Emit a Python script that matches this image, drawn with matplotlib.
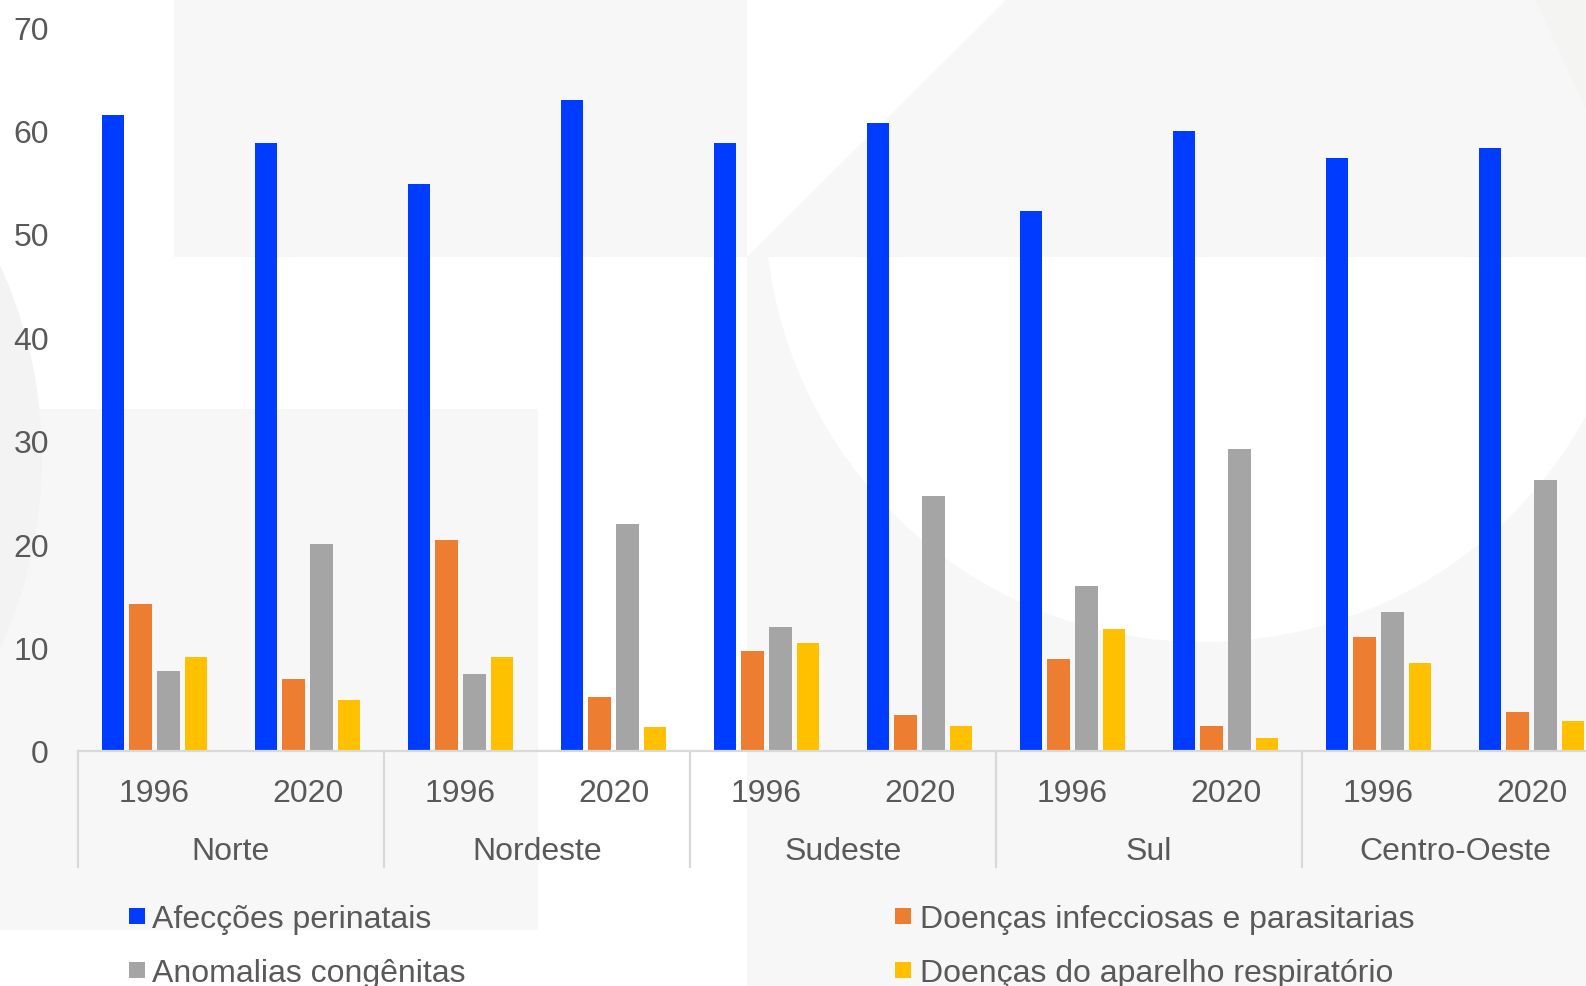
import matplotlib.pyplot as plt
from matplotlib.patches import Rectangle, Polygon, Circle
from matplotlib.transforms import Affine2D
import numpy as np

plt.rcParams['font.family'] = ['Liberation Sans', 'DejaVu Sans']

# data (deaths %, by region and year)
regions = ['Norte', 'Nordeste', 'Sudeste', 'Sul', 'Centro-Oeste']
years = ['1996', '2020']
series_names = ['Afecções perinatais', 'Doenças infecciosas e parasitarias',
                'Anomalias congênitas', 'Doenças do aparelho respiratório']
colors = ['#003CFF', '#ED7D31', '#A5A5A5', '#FFC000']

afeccoes = [61.5, 58.8, 54.8, 62.9, 58.8, 60.7, 52.2, 59.9, 57.3, 58.3]
infecciosas = [14.2, 7.0, 20.4, 5.2, 9.7, 3.5, 8.9, 2.4, 11.0, 3.8]
anomalias = [7.7, 20.0, 7.4, 21.9, 12.0, 24.7, 16.0, 29.2, 13.4, 26.2]
respiratorio = [9.1, 4.9, 9.1, 2.3, 10.4, 2.4, 11.8, 1.3, 8.5, 2.9]
series = [afeccoes, infecciosas, anomalias, respiratorio]

W, H = 1586, 987
TXT = '#595959'
BG = '#f7f7f7'
FS = 23

fig = plt.figure(figsize=(W / 100, H / 100), dpi=100)
fig.patch.set_facecolor('white')

# pixel coords (y from top) -> figure
px = Affine2D().scale(1, -1).translate(0, H).scale(1 / W, 1 / H) + fig.transFigure


def bg(patch):
    patch.set_transform(px)
    patch.set_zorder(-5)
    patch.set_linewidth(0)
    fig.add_artist(patch)


# decorative background shapes
bg(Rectangle((747, 258), W - 747, H - 258, facecolor=BG))
bg(Circle((1203, 205), 438, facecolor='white'))
bg(Polygon([(1007, 0), (W, 0), (W, 258), (747, 258)], facecolor=BG))
bg(Rectangle((174, 0), 747 - 174, 258, facecolor=BG))
bg(Rectangle((0, 410), 538, 931 - 410, facecolor=BG))
bg(Circle((-416, 458), 458, facecolor='#f3f3f3'))
bg(Polygon([(1535, 0), (W, 0), (W, 110)], facecolor='#f4f4f2'))

ax = fig.add_axes([78 / W, 235 / H, 1530 / W, 724 / H])
ax.patch.set_visible(False)

n = len(series_names)
x = np.arange(len(regions) * len(years))
step = 0.182
width = 0.145
for k, (vals, c) in enumerate(zip(series, colors)):
    ax.bar(x + (k - (n - 1) / 2) * step, vals, width=width, color=c, label=series_names[k])

ax.set_xlim(-0.5, len(x) - 0.5)
ax.set_ylim(0, 70)
ax.set_yticks(range(0, 71, 10))
ax.tick_params(axis='y', length=0, pad=21, labelsize=FS, labelcolor=TXT)
ax.set_xticks([])
for s in ['top', 'right', 'left']:
    ax.spines[s].set_visible(False)
ax.spines['bottom'].set_color('#d9d9d9')
ax.spines['bottom'].set_linewidth(1.6)

# two-level category axis
tr = ax.get_xaxis_transform()
for i in x:
    ax.text(i, -0.069, years[i % 2], transform=tr, ha='center', va='baseline',
            fontsize=FS, color=TXT)
for g, name in enumerate(regions):
    ax.text(2 * g + 0.5, -0.149, name, transform=tr, ha='center', va='baseline',
            fontsize=FS, color=TXT)
for b in np.arange(-0.5, len(x), 2):
    ax.plot([b, b], [0, -0.160], transform=tr, color='#d9d9d9', lw=1.6, clip_on=False)

# legend, two columns
leg_cols = [(137, 152), (903, 920)]
leg_rows = [917, 971]
order = [[0, 2], [1, 3]]
for (sx, tx), idx in zip(leg_cols, order):
    for y, k in zip(leg_rows, idx):
        fig.add_artist(Rectangle((sx - 8, y - 8), 16, 16, transform=px,
                                 facecolor=colors[k], lw=0))
        fig.text(tx / W, 1 - (y + 11) / H, series_names[k], fontsize=FS,
                 color=TXT, ha='left', va='baseline')

fig.savefig('out.png', dpi=100)
